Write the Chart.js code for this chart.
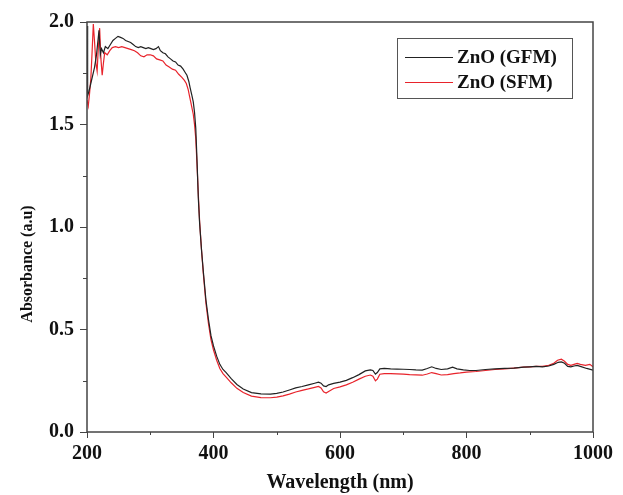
<!DOCTYPE html>
<html><head><meta charset="utf-8">
<script src="https://cdn.jsdelivr.net/npm/chart.js@4.4.0/dist/chart.umd.min.js"></script>
<style>html,body{margin:0;padding:0;background:#fff}#wrap{width:623px;height:495px}</style>
</head><body><div id="wrap"><canvas id="c" width="623" height="495"></canvas></div>
<script>
const seriesNames = ['ZnO (GFM)', 'ZnO (SFM)'];
const seriesColors = ['#222222', '#e8232b'];

const gfmWavelength = [200,201,203,206,209,212,215,217,219,221,223,226,229,233,237,241,245,249,253,257,261,265,269,273,277,281,285,289,293,297,301,305,309,313,316,320,324,328,332,336,340,344,348,352,355,358,361,363,366,368,370,372,373,374,376,378,381,384,388,392,396,400,405,410,415,420,428,437,447,460,475,490,500,510,520,530,540,550,560,566,570,574,578,582,590,600,610,620,630,640,648,652,656,659,663,670,680,690,700,710,720,730,738,745,752,760,770,778,785,795,805,815,830,845,860,875,890,900,910,920,930,938,945,950,955,960,965,970,975,980,990,1000];
const gfmAbsorbance = [1.98,1.64,1.66,1.70,1.74,1.78,1.84,1.90,1.96,1.84,1.87,1.85,1.88,1.87,1.89,1.91,1.92,1.93,1.925,1.92,1.91,1.905,1.90,1.89,1.88,1.875,1.88,1.875,1.87,1.875,1.87,1.865,1.87,1.88,1.86,1.85,1.845,1.83,1.82,1.81,1.805,1.79,1.785,1.77,1.755,1.74,1.71,1.68,1.64,1.61,1.56,1.48,1.40,1.32,1.14,1.02,0.89,0.78,0.645,0.55,0.47,0.42,0.37,0.33,0.305,0.29,0.26,0.232,0.21,0.192,0.186,0.185,0.188,0.195,0.205,0.215,0.222,0.23,0.238,0.243,0.238,0.225,0.222,0.23,0.237,0.243,0.252,0.265,0.28,0.298,0.303,0.30,0.282,0.29,0.308,0.31,0.308,0.307,0.306,0.305,0.303,0.302,0.31,0.318,0.31,0.305,0.308,0.316,0.308,0.303,0.30,0.30,0.305,0.308,0.31,0.312,0.316,0.318,0.32,0.318,0.322,0.33,0.34,0.342,0.335,0.32,0.318,0.322,0.325,0.32,0.31,0.302];

const sfmWavelength = [200,202,204,206,208,210,212,214,216,218,220,222,224,226,228,232,236,240,245,250,255,260,265,270,275,280,285,290,295,300,305,310,315,320,325,330,335,340,345,350,354,357,360,362,364,366,368,370,372,374,376,378,381,384,388,392,396,400,405,410,415,420,428,437,447,460,475,490,500,510,520,530,540,550,560,566,570,574,578,582,590,600,610,620,630,640,648,652,656,659,663,670,680,690,700,710,720,730,738,745,752,760,770,780,790,800,815,830,845,860,875,890,900,910,920,930,938,944,950,955,960,965,970,975,980,988,995,1000];
const sfmAbsorbance = [1.62,1.59,1.65,1.72,1.85,1.99,1.90,1.80,1.76,1.88,1.97,1.82,1.74,1.80,1.85,1.84,1.86,1.875,1.88,1.875,1.88,1.875,1.87,1.865,1.86,1.85,1.835,1.83,1.84,1.84,1.835,1.82,1.815,1.81,1.79,1.78,1.77,1.765,1.745,1.73,1.715,1.70,1.67,1.64,1.61,1.58,1.55,1.50,1.43,1.30,1.16,1.03,0.89,0.77,0.63,0.53,0.45,0.40,0.35,0.31,0.285,0.268,0.24,0.213,0.193,0.175,0.168,0.167,0.17,0.176,0.185,0.195,0.203,0.21,0.218,0.222,0.215,0.196,0.19,0.198,0.212,0.22,0.23,0.243,0.258,0.272,0.278,0.272,0.25,0.258,0.282,0.285,0.285,0.284,0.282,0.28,0.279,0.277,0.283,0.29,0.285,0.278,0.28,0.285,0.288,0.292,0.295,0.30,0.305,0.308,0.312,0.316,0.318,0.32,0.32,0.325,0.335,0.35,0.355,0.345,0.33,0.325,0.33,0.335,0.33,0.325,0.33,0.318];

const xTickLabels = [200, 400, 600, 800, 1000];
const yTickLabels = [0.0, 0.5, 1.0, 1.5, 2.0];
const xTitle = 'Wavelength (nm)';
const yTitle = 'Absorbance (a.u)';

const toPoints = (xs, ys) => xs.map((x, i) => ({x: x, y: ys[i]}));
const isMajor = (v, list) => list.some(t => Math.abs(t - v) < 1e-6);
const FONT = "'Liberation Serif', 'Times New Roman', serif";
const AXIS_COLOR = '#444';

const decor = {
  id: 'decor',
  afterDatasetsDraw(chart) {
    const {ctx, chartArea: a, scales} = chart;
    ctx.save();
    ctx.strokeStyle = AXIS_COLOR;
    ctx.lineWidth = 1.5;
    ctx.strokeRect(a.left, a.top, a.right - a.left, a.bottom - a.top);
    ctx.lineWidth = 1;
    // minor ticks
    scales.x.ticks.forEach(t => {
      if (!isMajor(t.value, xTickLabels)) {
        const px = Math.round(scales.x.getPixelForValue(t.value)) + 0.5;
        ctx.beginPath(); ctx.moveTo(px, a.bottom); ctx.lineTo(px, a.bottom + 3); ctx.stroke();
      }
    });
    scales.y.ticks.forEach(t => {
      if (!isMajor(t.value, yTickLabels)) {
        const py = Math.round(scales.y.getPixelForValue(t.value)) + 0.5;
        ctx.beginPath(); ctx.moveTo(a.left - 4, py); ctx.lineTo(a.left, py); ctx.stroke();
      }
    });
    // y axis title (placed lower, as in the reference)
    ctx.save();
    ctx.translate(28, 264);
    ctx.rotate(-Math.PI / 2);
    ctx.font = 'bold 16px ' + FONT;
    ctx.fillStyle = '#111';
    ctx.textAlign = 'center';
    ctx.textBaseline = 'middle';
    ctx.fillText(yTitle, 0, 0);
    ctx.restore();
    // legend
    const bx = 397, by = 38, bw = 175, bh = 60;
    ctx.fillStyle = '#fff';
    ctx.fillRect(bx, by, bw, bh);
    ctx.strokeStyle = '#555';
    ctx.strokeRect(bx + 0.5, by + 0.5, bw, bh);
    ctx.font = 'bold 19px ' + FONT;
    ctx.textBaseline = 'middle';
    ctx.textAlign = 'left';
    chart.data.datasets.forEach((ds, i) => {
      const y = by + 19 + i * 25;
      ctx.strokeStyle = ds.borderColor;
      ctx.lineWidth = 1.2;
      ctx.beginPath(); ctx.moveTo(bx + 8, y + 0.5); ctx.lineTo(bx + 56, y + 0.5); ctx.stroke();
      ctx.fillStyle = '#111';
      ctx.fillText(ds.label, bx + 60, y + 1);
    });
    ctx.restore();
  }
};

new Chart(document.getElementById('c'), {
  type: 'line',
  data: {
    datasets: [
      {label: seriesNames[0], data: toPoints(gfmWavelength, gfmAbsorbance), borderColor: seriesColors[0], borderWidth: 1.2, pointRadius: 0, tension: 0, fill: false},
      {label: seriesNames[1], data: toPoints(sfmWavelength, sfmAbsorbance), borderColor: seriesColors[1], borderWidth: 1.2, pointRadius: 0, tension: 0, fill: false}
    ]
  },
  options: {
    responsive: false,
    animation: false,
    devicePixelRatio: 1,
    layout: {padding: {top: 22, right: 30, left: 0, bottom: 0}},
    plugins: {legend: {display: false}, tooltip: {enabled: false}},
    scales: {
      x: {
        type: 'linear', min: 200, max: 1000,
        afterFit(s) { s.height = 63; },
        border: {display: false},
        grid: {drawOnChartArea: false, tickLength: 6, tickWidth: 1,
               tickColor: c => isMajor(c.tick.value, xTickLabels) ? AXIS_COLOR : 'rgba(0,0,0,0)'},
        ticks: {stepSize: 100, padding: 4, color: '#111', font: {family: FONT, size: 20, weight: 'bold'},
                maxRotation: 0, autoSkip: false,
                callback: v => isMajor(v, xTickLabels) ? String(v) : ''},
        title: {display: true, text: xTitle, color: '#111', font: {family: FONT, size: 20, weight: 'bold'}, padding: {top: 0, bottom: 0}}
      },
      y: {
        type: 'linear', min: 0, max: 2,
        afterFit(s) { s.width = 87; },
        border: {display: false},
        grid: {drawOnChartArea: false, tickLength: 7, tickWidth: 1,
               tickColor: c => isMajor(c.tick.value, yTickLabels) ? AXIS_COLOR : 'rgba(0,0,0,0)'},
        ticks: {stepSize: 0.25, padding: 6, color: '#111', font: {family: FONT, size: 20, weight: 'bold'},
                autoSkip: false,
                callback: v => isMajor(v, yTickLabels) ? v.toFixed(1) : ''},
        title: {display: false}
      }
    }
  },
  plugins: [decor]
});
</script></body></html>
